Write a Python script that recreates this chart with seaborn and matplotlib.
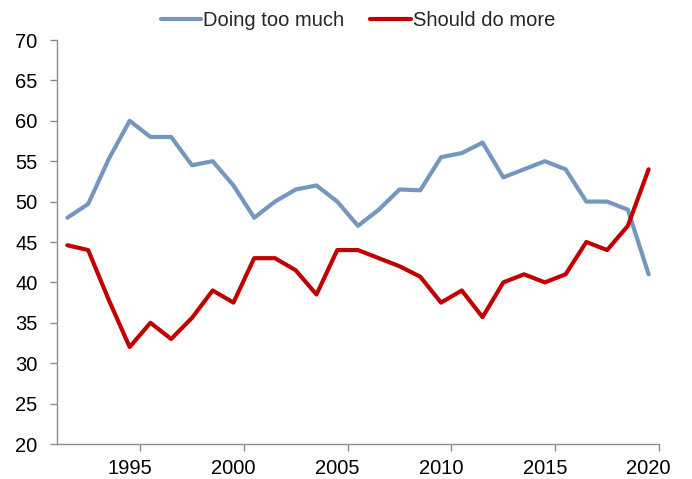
import matplotlib
matplotlib.use("Agg")
import matplotlib.pyplot as plt
import numpy as np
import pandas as pd
import seaborn as sns


YEARS = list(range(1992, 2021))
DOING_TOO_MUCH = [48, 49.7, 55.3, 60, 58, 58, 54.5, 55, 52, 48,
                  50, 51.5, 52, 50, 47, 49, 51.5, 51.4, 55.5, 56,
                  57.3, 53, 54, 55, 54, 50, 50, 49, 41]
SHOULD_DO_MORE = [44.6, 44, 37.8, 32, 35, 33, 35.6, 39, 37.5, 43,
                  43, 41.5, 38.5, 44, 44, 43, 42, 40.7, 37.5, 39,
                  35.7, 40, 41, 40, 41, 45, 44, 47, 54]
SERIES_NAMES = ["Doing too much", "Should do more"]
LABEL_YEARS = [1995, 2000, 2005, 2010, 2015, 2020]
PALETTE = {"Doing too much": "#7596BE", "Should do more": "#C00000"}

FONT_SIZE = 14.5


def main() -> None:
    sns.set_theme(style="white")
    plt.rcParams["font.family"] = ["Liberation Sans", "DejaVu Sans"]

    df = pd.DataFrame({
        "year": YEARS * 2,
        "value": DOING_TOO_MUCH + SHOULD_DO_MORE,
        "series": [SERIES_NAMES[0]] * len(YEARS) + [SERIES_NAMES[1]] * len(YEARS),
    })

    fig = plt.figure(figsize=(6.92, 4.79), dpi=100)
    ax = fig.add_axes([57 / 692, 1 - 444 / 479, (659 - 57) / 692, (444 - 40) / 479])

    sns.lineplot(data=df, x="year", y="value", hue="series", palette=PALETTE,
                 linewidth=3.0, ax=ax, legend=False)

    ax.set_xlim(YEARS[0] - 0.5, YEARS[-1] + 0.5)
    ax.set_ylim(20, 70)
    ax.set_yticks(np.arange(20, 71, 5))
    ax.set_xticks(LABEL_YEARS)
    ax.set_xticks([y + 0.5 for y in LABEL_YEARS], minor=True)
    ax.set_xlabel("")
    ax.set_ylabel("")

    for side in ["top", "right"]:
        ax.spines[side].set_visible(False)
    for side in ["left", "bottom"]:
        ax.spines[side].set_color("#8c8c8c")
        ax.spines[side].set_linewidth(1.0)

    ax.tick_params(axis="y", which="major", direction="out", length=5, width=1,
                   color="#8c8c8c", labelsize=FONT_SIZE, labelcolor="black", pad=9, left=True)
    ax.tick_params(axis="x", which="major", length=0, labelsize=FONT_SIZE,
                   labelcolor="black", pad=11)
    ax.tick_params(axis="x", which="minor", direction="out", length=5, width=1,
                   color="#8c8c8c", bottom=True)
    ax.grid(False)

    handles = [plt.Line2D([0], [0], color=PALETTE[name], linewidth=3.0) for name in SERIES_NAMES]
    fig.legend(handles, SERIES_NAMES, loc="center", ncol=2, frameon=False,
               bbox_to_anchor=(358 / 692, 1 - 21 / 479), fontsize=FONT_SIZE,
               handlelength=2.0, handletextpad=0.1, columnspacing=1.3)

    fig.savefig("out.png", dpi=100)
    plt.close(fig)


if __name__ == "__main__":
    main()
